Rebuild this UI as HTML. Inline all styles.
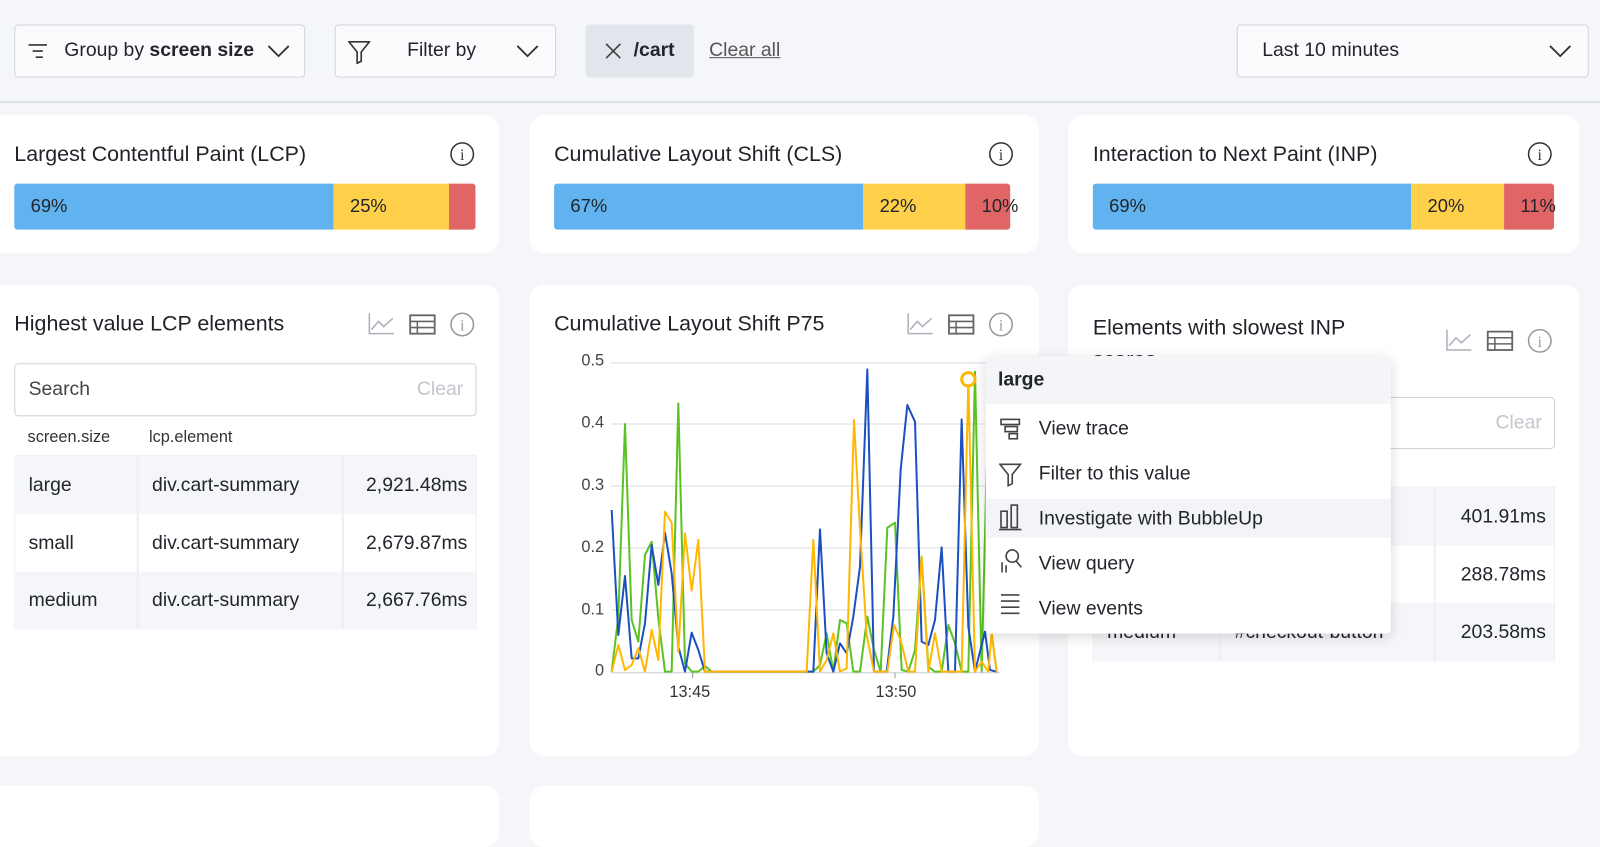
<!DOCTYPE html>
<html><head><meta charset="utf-8"><style>
*{box-sizing:border-box;margin:0;padding:0}
body{width:1600px;height:814px;overflow:hidden;background:#f5f6f9;font-family:"Liberation Sans",Arial,sans-serif;color:#22252b;position:relative}
#w{position:absolute;left:0;top:0;width:1600px;height:814px;transform:scale(1.0204);transform-origin:0 0}
.abs{position:absolute}
.btn{position:absolute;border:1.5px solid #cfd4dd;border-radius:4px;background:#fbfbfd;height:52px;top:24px;font-size:19px;display:flex;align-items:center}
.card{position:absolute;background:#fff;border-radius:14px}
.title{position:absolute;font-size:21px;font-weight:500;color:#1f2329}
.bar{position:absolute;height:45px;top:180px;display:flex;border-radius:3px;overflow:visible;font-size:18px}
.bar div{height:100%;display:flex;align-items:center;padding-left:16px;white-space:nowrap}
.tbl{position:absolute;font-size:19px}
.row{position:absolute;left:0;right:0;height:57px;display:flex;align-items:center}
.cell{position:absolute;top:0;height:100%;display:flex;align-items:center;padding-left:13px;border-right:2px solid #eceef2}
.ytick{position:absolute;font-size:16px;color:#444;text-align:right;width:40px}
.menu div.it{position:absolute;left:52px;font-size:19px}
</style></head><body><div id="w">
<!-- top bar -->
<div class="abs" style="left:0;top:99px;width:1600px;height:2px;background:#dde1e8"></div>
<div class="btn" style="left:14px;width:285px">
 <svg class="abs" style="left:12px;top:17px" width="20" height="16"><g stroke="#333" stroke-width="1.6"><line x1="1" y1="2" x2="19" y2="2"/><line x1="5" y1="8" x2="15" y2="8"/><line x1="8" y1="14" x2="15" y2="14"/></g></svg>
 <span style="margin-left:48px">Group by <b style="font-weight:600">screen size</b></span>
 <svg class="abs" style="left:247px;top:18px" width="22" height="14"><polyline points="1,2 11,12 21,2" fill="none" stroke="#333" stroke-width="1.8"/></svg>
</div>
<div class="btn" style="left:328px;width:217px">
 <svg class="abs" style="left:12px;top:14px" width="22" height="24"><path d="M1 2 H21 L13 12 V21 L9 23 V12 Z" fill="none" stroke="#333" stroke-width="1.6"/></svg>
 <span style="margin-left:70px">Filter by</span>
 <svg class="abs" style="left:177px;top:18px" width="22" height="14"><polyline points="1,2 11,12 21,2" fill="none" stroke="#333" stroke-width="1.8"/></svg>
</div>
<div class="abs" style="left:574px;top:24px;width:106px;height:52px;background:#e2e5ec;border-radius:4px;font-size:19px;font-weight:600">
 <svg class="abs" style="left:19px;top:18px" width="16" height="16"><g stroke="#444" stroke-width="1.6"><line x1="1" y1="1" x2="15" y2="15"/><line x1="15" y1="1" x2="1" y2="15"/></g></svg>
 <span class="abs" style="left:47px;top:15px">/cart</span>
</div>
<div class="abs" style="left:695px;top:39px;font-size:19px;color:#555;text-decoration:underline">Clear all</div>
<div class="btn" style="left:1212px;width:345px"><span style="margin-left:24px">Last 10 minutes</span>
 <svg class="abs" style="left:305px;top:18px" width="22" height="14"><polyline points="1,2 11,12 21,2" fill="none" stroke="#333" stroke-width="1.8"/></svg></div>

<!-- row1 cards -->
<div class="card" style="left:-10px;top:113px;width:499px;height:135px"></div>
<div class="card" style="left:519px;top:113px;width:499px;height:135px"></div>
<div class="card" style="left:1047px;top:113px;width:501px;height:135px"></div>
<div class="title" style="left:14px;top:140px">Largest Contentful Paint (LCP)</div>
<div class="title" style="left:543px;top:140px">Cumulative Layout Shift (CLS)</div>
<div class="title" style="left:1071px;top:140px">Interaction to Next Paint (INP)</div>
<svg class="abs" style="left:440px;top:138px" width="26" height="26"><circle cx="13" cy="13" r="11" fill="none" stroke="#333" stroke-width="1.5"/><text x="13" y="19" font-size="15" text-anchor="middle" font-family="Liberation Serif" fill="#333">i</text></svg>
<svg class="abs" style="left:968px;top:138px" width="26" height="26"><circle cx="13" cy="13" r="11" fill="none" stroke="#333" stroke-width="1.5"/><text x="13" y="19" font-size="15" text-anchor="middle" font-family="Liberation Serif" fill="#333">i</text></svg>
<svg class="abs" style="left:1496px;top:138px" width="26" height="26"><circle cx="13" cy="13" r="11" fill="none" stroke="#333" stroke-width="1.5"/><text x="13" y="19" font-size="15" text-anchor="middle" font-family="Liberation Serif" fill="#333">i</text></svg>
<div class="bar" style="left:14px;width:452px"><div style="width:313px;background:#61b3ef;border-radius:3px 0 0 3px">69%</div><div style="width:113px;background:#ffd04a">25%</div><div style="width:26px;background:#e26566;border-radius:0 3px 3px 0"></div></div>
<div class="bar" style="left:543px;width:447px"><div style="width:303px;background:#61b3ef;border-radius:3px 0 0 3px">67%</div><div style="width:100px;background:#ffd04a">22%</div><div style="width:44px;background:#e26566;border-radius:0 3px 3px 0">10%</div></div>
<div class="bar" style="left:1071px;width:452px"><div style="width:312px;background:#61b3ef;border-radius:3px 0 0 3px">69%</div><div style="width:91px;background:#ffd04a">20%</div><div style="width:49px;background:#e26566;border-radius:0 3px 3px 0">11%</div></div>

<!-- row2 cards -->
<div class="card" style="left:-10px;top:279px;width:499px;height:462px"></div>
<div class="card" style="left:519px;top:279px;width:499px;height:462px"></div>
<div class="card" style="left:1047px;top:279px;width:501px;height:462px"></div>
<div class="card" style="left:-10px;top:770px;width:499px;height:60px"></div>
<div class="card" style="left:519px;top:770px;width:499px;height:60px"></div>

<svg width="0" height="0" style="position:absolute"><defs>
<g id="ic"><polyline points="2,2 2,22 26,22" fill="none" stroke="#aab0ba" stroke-width="1.5"/><polyline points="4,18 11,10 16,15 25,7" fill="none" stroke="#aab0ba" stroke-width="1.5"/>
<rect x="42" y="4" width="24" height="18" fill="none" stroke="#666" stroke-width="1.8"/><line x1="42" y1="10" x2="66" y2="10" stroke="#666" stroke-width="1.5"/><line x1="42" y1="16" x2="66" y2="16" stroke="#666" stroke-width="1.5"/><line x1="49" y1="10" x2="49" y2="22" stroke="#666" stroke-width="1.5"/>
<circle cx="93" cy="13" r="11" fill="none" stroke="#999" stroke-width="1.5"/><text x="93" y="19" font-size="15" text-anchor="middle" font-family="Liberation Serif" fill="#999">i</text></g></defs></svg>
<svg class="abs" style="left:360px;top:305px" width="110" height="28"><use href="#ic"/></svg>
<svg class="abs" style="left:888px;top:305px" width="110" height="28"><use href="#ic"/></svg>
<svg class="abs" style="left:1416px;top:321px" width="110" height="28"><use href="#ic"/></svg>

<!-- LCP table -->
<div class="title" style="left:14px;top:306px">Highest value LCP elements</div>
<div class="abs" style="left:14px;top:356px;width:453px;height:52px;border:1.5px solid #cdd3dc;border-radius:4px;font-size:19px"><span class="abs" style="left:13px;top:14px;color:#444">Search</span><span class="abs" style="right:12px;top:14px;color:#c2c6cd">Clear</span></div>
<div class="abs" style="left:27px;top:420px;font-size:16px;color:#333">screen.size</div>
<div class="abs" style="left:146px;top:420px;font-size:16px;color:#333">lcp.element</div>
<div class="tbl" style="left:14px;top:446px;width:453px;height:171px;border:1px solid #eceef2">
 <div class="row" style="top:0;background:#f5f6f9"><div class="cell" style="left:0;width:121px">large</div><div class="cell" style="left:121px;width:201px">div.cart-summary</div><div class="abs" style="right:8px">2,921.48ms</div></div>
 <div class="row" style="top:57px;background:#fff"><div class="cell" style="left:0;width:121px">small</div><div class="cell" style="left:121px;width:201px">div.cart-summary</div><div class="abs" style="right:8px">2,679.87ms</div></div>
 <div class="row" style="top:113px;background:#f5f6f9"><div class="cell" style="left:0;width:121px">medium</div><div class="cell" style="left:121px;width:201px">div.cart-summary</div><div class="abs" style="right:8px">2,667.76ms</div></div>
</div>

<!-- INP table -->
<div class="title" style="left:1071px;top:306px;line-height:31px;width:300px">Elements with slowest INP scores</div>
<div class="abs" style="left:1071px;top:389px;width:453px;height:51px;border:1.5px solid #cdd3dc;border-radius:4px;font-size:19px"><span class="abs" style="right:12px;top:14px;color:#c2c6cd">Clear</span></div>
<div class="tbl" style="left:1071px;top:477px;width:453px;height:171px;border:1px solid #eceef2">
 <div class="row" style="top:0;background:#f5f6f9"><div class="cell" style="left:0;width:125px">large</div><div class="cell" style="left:125px;width:210px">#checkout-button</div><div class="abs" style="right:8px">401.91ms</div></div>
 <div class="row" style="top:57px;background:#fff"><div class="cell" style="left:0;width:125px">small</div><div class="cell" style="left:125px;width:210px">#checkout-button</div><div class="abs" style="right:8px">288.78ms</div></div>
 <div class="row" style="top:113px;background:#f5f6f9"><div class="cell" style="left:0;width:125px">medium</div><div class="cell" style="left:125px;width:210px">#checkout-button</div><div class="abs" style="right:8px">203.58ms</div></div>
</div>

<!-- chart -->
<div class="title" style="left:543px;top:306px">Cumulative Layout Shift P75</div>
<div class="ytick" style="left:552px;top:345px">0.5</div>
<div class="ytick" style="left:552px;top:406px">0.4</div>
<div class="ytick" style="left:552px;top:467px">0.3</div>
<div class="ytick" style="left:552px;top:528px">0.2</div>
<div class="ytick" style="left:552px;top:589px">0.1</div>
<div class="ytick" style="left:552px;top:649px">0</div>
<div class="abs" style="left:656px;top:670px;font-size:16px;color:#333">13:45</div>
<div class="abs" style="left:858px;top:670px;font-size:16px;color:#333">13:50</div>
<svg class="abs" style="left:0;top:0;transform:scale(0.98);transform-origin:0 0" width="1600" height="814">
<g stroke="#e3e6ec" stroke-width="1.5"><line x1="611" y1="363" x2="995" y2="363"/><line x1="611" y1="424" x2="995" y2="424"/><line x1="611" y1="486" x2="995" y2="486"/><line x1="611" y1="548" x2="995" y2="548"/><line x1="611" y1="610" x2="995" y2="610"/></g>
<g transform="translate(530,340) scale(0.33333)" fill="none" stroke-width="6" stroke-linejoin="round">
<line x1="243" y1="998" x2="1410" y2="998" stroke="#d6dae1" stroke-width="4"/>
<line x1="488" y1="998" x2="488" y2="1015" stroke="#999" stroke-width="3"/><line x1="1095" y1="998" x2="1095" y2="1015" stroke="#999" stroke-width="3"/>
<polyline stroke="#58c322" points="245,995 265,830 285,252 305,840 325,905 345,645 365,605 385,835 405,995 425,995 445,190 465,970 485,995 505,995 525,978 545,995 850,995 870,975 890,880 910,995 930,840 950,850 970,995 990,995 1012,830 1032,930 1052,995 1072,563 1095,548 1115,990 1135,995 1155,930 1175,650 1195,980 1215,995 1235,995 1255,855 1275,910 1295,995 1315,995 1335,95 1355,995 1370,380 1385,880 1400,995"/>
<polyline stroke="#1c4fc0" points="245,510 265,885 285,708 305,955 325,955 345,850 365,615 385,735 405,578 425,700 445,920 465,995 485,878 505,930 525,995 850,995 870,568 890,940 910,995 930,910 950,940 970,830 990,680 1012,88 1032,995 1050,995 1070,995 1090,830 1112,390 1132,195 1155,245 1175,905 1195,915 1215,840 1235,622 1255,995 1275,995 1295,238 1315,860 1335,995 1365,875 1380,990 1400,995"/>
<polyline stroke="#ffb703" points="245,995 265,915 285,990 305,975 325,925 345,995 365,870 385,960 405,515 425,548 445,935 465,580 485,752 505,600 525,995 830,995 850,600 870,995 890,960 910,880 930,995 950,985 972,240 990,565 1010,885 1032,995 1050,995 1072,995 1092,855 1112,900 1135,995 1155,995 1175,650 1195,995 1215,880 1235,995 1255,995 1275,995 1295,995 1315,118 1335,995 1355,965 1375,995 1385,880 1400,995"/>
<circle cx="1315" cy="118" r="20" stroke="#ffb703" stroke-width="9" fill="#fff"/>
</g>
</svg>

<!-- tooltip menu -->
<div class="abs menu" style="left:966px;top:349px;width:397px;height:272px;background:#fff;border-radius:4px;box-shadow:0 3px 12px rgba(0,0,0,0.15)">
 <div class="abs" style="left:0;top:0;width:100%;height:47px;background:#f4f5f8;border-radius:4px 4px 0 0"></div>
 <div class="abs" style="left:12px;top:13px;font-size:19px;font-weight:600">large</div>
 <div class="abs" style="left:0;top:140px;width:100%;height:38px;background:#f3f4f7"></div>
 <div class="it" style="top:61px">View trace</div>
 <div class="it" style="top:105px">Filter to this value</div>
 <div class="it" style="top:149px">Investigate with BubbleUp</div>
 <div class="it" style="top:193px">View query</div>
 <div class="it" style="top:237px">View events</div>
 <svg class="abs" style="left:13px;top:60px" width="24" height="200" fill="none" stroke="#444" stroke-width="1.6">
  <rect x="2" y="2" width="18" height="5"/><rect x="6" y="9" width="12" height="5"/><rect x="10" y="16" width="8" height="5"/>
  <path d="M1 46 H21 L13 56 V65 L9 67 V56 Z"/>
  <rect x="2" y="92" width="6" height="16"/><rect x="12" y="86" width="6" height="22"/><line x1="0" y1="110" x2="22" y2="110"/>
  <circle cx="13" cy="136" r="6"/><line x1="17" y1="141" x2="22" y2="147"/><line x1="3" y1="142" x2="3" y2="152"/><line x1="7" y1="145" x2="7" y2="152"/>
  <line x1="2" y1="174" x2="20" y2="174"/><line x1="2" y1="180" x2="20" y2="180"/><line x1="2" y1="186" x2="20" y2="186"/><line x1="2" y1="192" x2="20" y2="192"/>
 </svg>
</div>
</div></body></html>
